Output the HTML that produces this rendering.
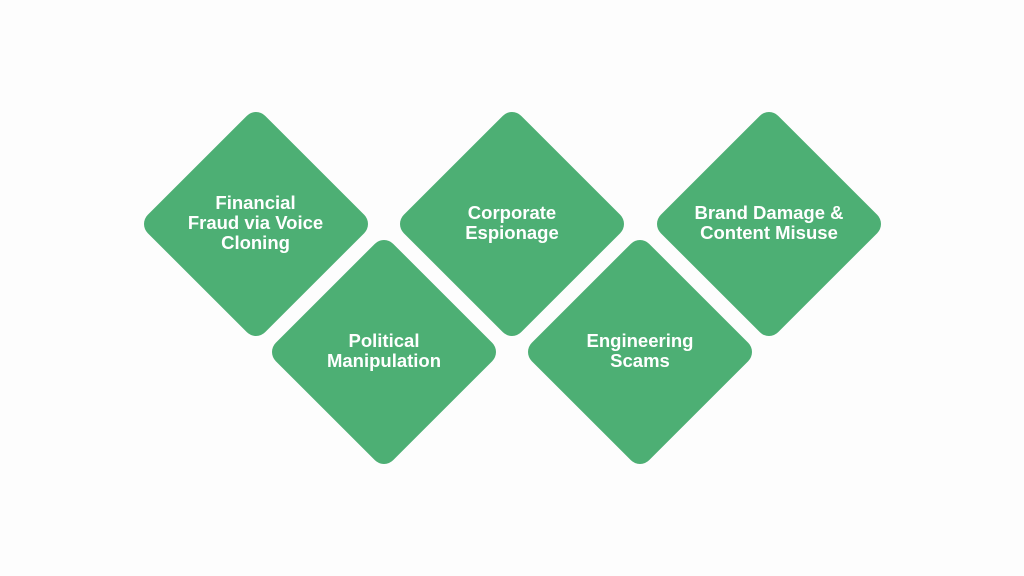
<!DOCTYPE html>
<html><head><style>
body{margin:0;width:1024px;height:576px;background:#fdfdfd;position:relative;overflow:hidden;font-family:"Liberation Sans",sans-serif}
.d{position:absolute;width:166px;height:166px;background:#4daf74;border-radius:13px;transform:rotate(45deg)}
.t{position:absolute;width:220px;text-align:center;color:#fff;font-weight:bold;font-size:18.5px;line-height:20px;transform:translate(-50%,-50%)}
</style></head><body>
<div class="d" style="left:172.5px;top:140.5px"></div>
<div class="d" style="left:301px;top:269px"></div>
<div class="d" style="left:429px;top:140.5px"></div>
<div class="d" style="left:557px;top:269px"></div>
<div class="d" style="left:686px;top:140.5px"></div>
<div class="t" style="left:255.5px;top:223px">Financial<br>Fraud via Voice<br>Cloning</div>
<div class="t" style="left:384px;top:351px">Political<br>Manipulation</div>
<div class="t" style="left:512px;top:223px">Corporate<br>Espionage</div>
<div class="t" style="left:640px;top:351px">Engineering<br>Scams</div>
<div class="t" style="left:769px;top:223px">Brand Damage &amp;<br>Content Misuse</div>
</body></html>
